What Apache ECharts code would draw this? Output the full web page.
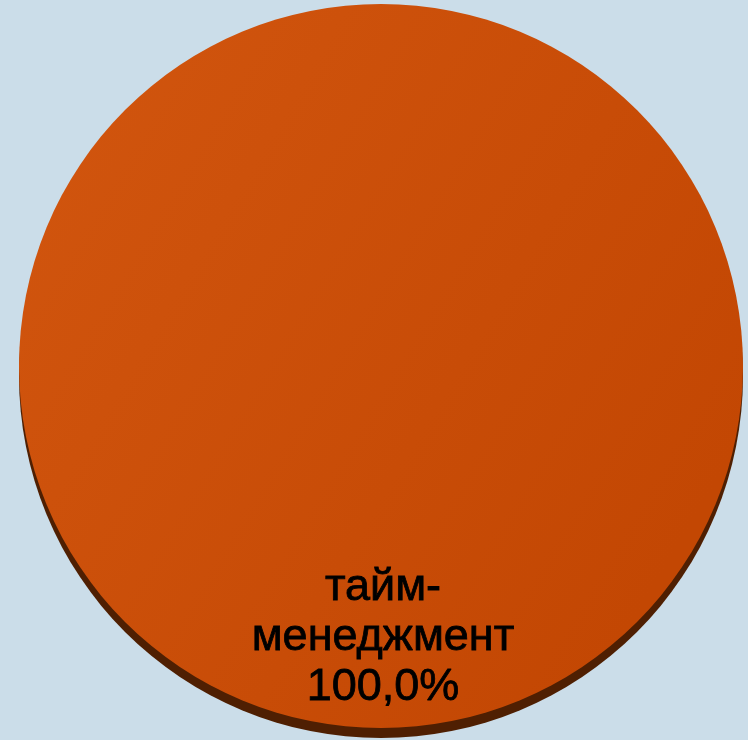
<!DOCTYPE html>
<html>
<head>
<meta charset="utf-8">
<script src="https://cdn.jsdelivr.net/npm/echarts@6/dist/echarts.min.js"></script>
<style>
  html, body { margin: 0; padding: 0; background: #cbdde9; }
  #chart { width: 748px; height: 740px; }
</style>
</head>
<body>
<div id="chart"></div>
<script>
// данные диаграммы
const categories = ["тайм-\nменеджмент"];
const values = [100];

const chart = echarts.init(document.getElementById("chart"));

const pieData = categories.map((name, i) => ({ name: name, value: values[i] }));

chart.setOption({
  backgroundColor: "#cbdde9",
  animation: false,
  series: [
    // нижняя "грань" объёмного круга
    {
      type: "pie",
      silent: true,
      center: [381, 376],
      radius: [0, 362],
      startAngle: 90,
      label: { show: false },
      labelLine: { show: false },
      itemStyle: { color: "#4f1f02" },
      data: pieData,
    },
    // верхняя грань
    {
      type: "pie",
      center: [381, 366],
      radius: [0, 362],
      startAngle: 90,
      label: { show: false },
      labelLine: { show: false },
      itemStyle: {
        color: new echarts.graphic.LinearGradient(0, 0, 1, 0.6, [
          { offset: 0, color: "#d2560f" },
          { offset: 1, color: "#c34703" },
        ]),
      },
      data: pieData,
    },
    // подпись
    {
      type: "pie",
      silent: true,
      center: [383, 365],
      radius: [250, 290],
      startAngle: 90,
      itemStyle: { color: "transparent" },
      labelLine: { show: false },
      label: {
        show: true,
        position: "inside",
        color: "#000",
        fontFamily: "Liberation Sans, Arial, sans-serif",
        fontSize: 45,
        lineHeight: 50,
        textBorderColor: "#000",
        textBorderWidth: 0.8,
        formatter: (p) => p.name + "\n" + p.value.toFixed(1).replace(".", ",") + "%",
      },
      data: pieData,
    },
  ],
});

window.addEventListener("resize", () => {
  chart && chart.resize();
});
</script>
</body>
</html>
